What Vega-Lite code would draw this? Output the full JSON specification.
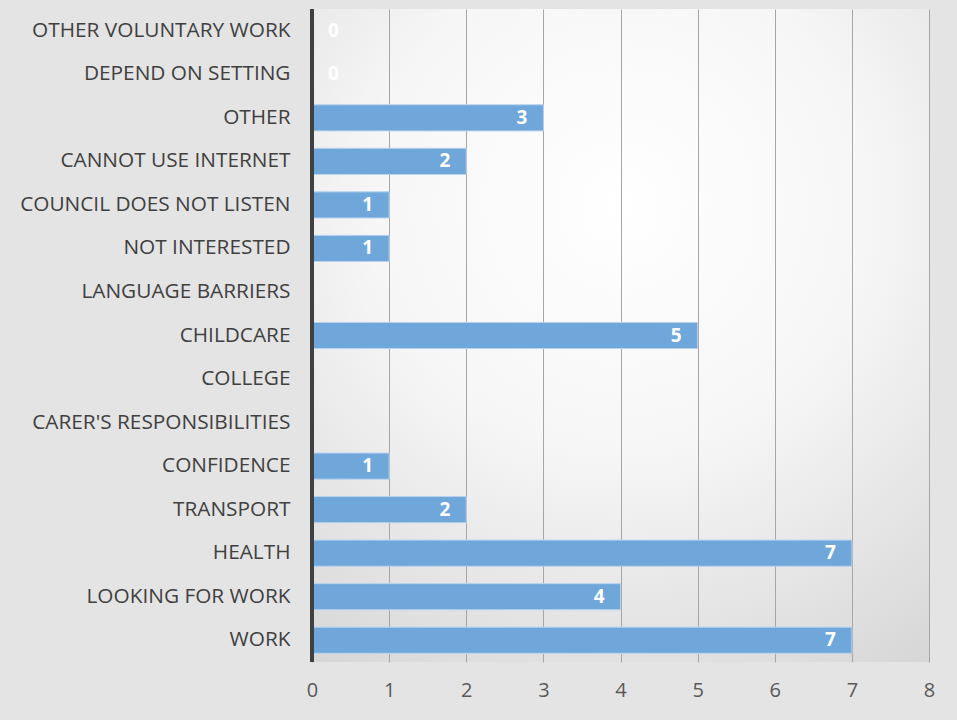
{
  "$schema": "https://vega.github.io/schema/vega-lite/v6.json",
  "width": 617,
  "height": 653,
  "autosize": {"type": "none"},
  "padding": {"left": 312, "top": 9, "right": 28, "bottom": 58},
  "background": "#e4e4e4",
  "config": {
    "view": {
      "stroke": null,
      "fill": {
        "gradient": "radial",
        "x1": 0.5, "y1": 0.3, "r1": 0,
        "x2": 0.5, "y2": 0.3, "r2": 0.85,
        "stops": [
          {"offset": 0, "color": "#ffffff"},
          {"offset": 0.45, "color": "#f6f6f6"},
          {"offset": 1, "color": "#d6d6d6"}
        ]
      }
    },
    "font": "Open Sans"
  },
  "data": {
    "values": [
      {"reason": "OTHER VOLUNTARY WORK", "count": 0},
      {"reason": "DEPEND ON SETTING", "count": 0},
      {"reason": "OTHER", "count": 3},
      {"reason": "CANNOT USE INTERNET", "count": 2},
      {"reason": "COUNCIL DOES NOT LISTEN", "count": 1},
      {"reason": "NOT INTERESTED", "count": 1},
      {"reason": "LANGUAGE BARRIERS", "count": null},
      {"reason": "CHILDCARE", "count": 5},
      {"reason": "COLLEGE", "count": null},
      {"reason": "CARER'S RESPONSIBILITIES", "count": null},
      {"reason": "CONFIDENCE", "count": 1},
      {"reason": "TRANSPORT", "count": 2},
      {"reason": "HEALTH", "count": 7},
      {"reason": "LOOKING FOR WORK", "count": 4},
      {"reason": "WORK", "count": 7}
    ]
  },
  "layer": [
    {
      "mark": {"type": "bar", "fill": "#6fa7da", "stroke": "#b8d3ee", "strokeWidth": 1},
      "encoding": {
        "y": {
          "field": "reason",
          "type": "nominal",
          "scale": {
            "domain": ["OTHER VOLUNTARY WORK", "DEPEND ON SETTING", "OTHER", "CANNOT USE INTERNET", "COUNCIL DOES NOT LISTEN", "NOT INTERESTED", "LANGUAGE BARRIERS", "CHILDCARE", "COLLEGE", "CARER'S RESPONSIBILITIES", "CONFIDENCE", "TRANSPORT", "HEALTH", "LOOKING FOR WORK", "WORK"],
            "paddingInner": 0.4,
            "paddingOuter": 0.2
          },
          "axis": {
            "title": null,
            "ticks": false,
            "domain": false,
            "labelPadding": 22,
            "labelFontSize": 20.8,
            "labelColor": "#404040",
            "labelFont": "Open Sans",
            "labelLimit": 400
          }
        },
        "x": {
          "field": "count",
          "type": "quantitative",
          "scale": {"domain": [0, 8]},
          "axis": {
            "title": null,
            "values": [0, 1, 2, 3, 4, 5, 6, 7, 8],
            "format": "d",
            "labelFlush": false,
            "grid": true,
            "gridColor": "#a6a6a6",
            "gridWidth": 1,
            "domain": false,
            "ticks": false,
            "labelPadding": 18,
            "labelFontSize": 20,
            "labelColor": "#595959",
            "labelFont": "Open Sans"
          }
        }
      }
    },
    {
      "transform": [{"filter": "datum.count > 0"}],
      "mark": {"type": "text", "align": "right", "dx": -16, "color": "white", "fontWeight": "bold", "fontSize": 19, "font": "Open Sans"},
      "encoding": {
        "y": {"field": "reason", "type": "nominal"},
        "x": {"field": "count", "type": "quantitative"},
        "text": {"field": "count"}
      }
    },
    {
      "transform": [{"filter": "datum.count === 0"}],
      "mark": {"type": "text", "align": "left", "dx": 16, "color": "white", "fontWeight": "bold", "fontSize": 19, "font": "Open Sans"},
      "encoding": {
        "y": {"field": "reason", "type": "nominal"},
        "x": {"field": "count", "type": "quantitative"},
        "text": {"field": "count"}
      }
    },
    {
      "mark": {"type": "rule", "color": "#404040", "strokeWidth": 3.5},
      "encoding": {"x": {"datum": 0}}
    }
  ]
}
